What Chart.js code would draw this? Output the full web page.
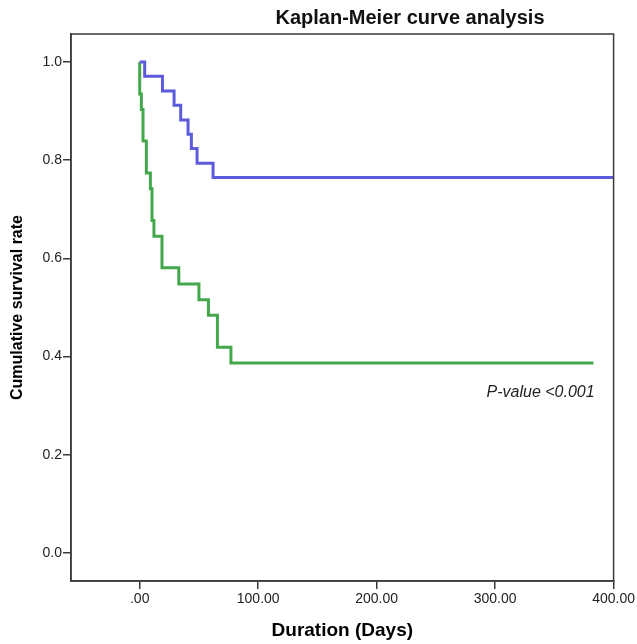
<!DOCTYPE html>
<html>
<head>
<meta charset="utf-8">
<script src="https://cdn.jsdelivr.net/npm/chart.js@4.4.1/dist/chart.umd.min.js"></script>
<style>
  html, body { margin: 0; padding: 0; background: #fff; }
  #wrap { width: 637px; height: 644px; }
</style>
</head>
<body>
<div id="wrap"><canvas id="km-graph" width="637" height="644"></canvas></div>
<script>
// survival curves (days, cumulative survival after each drop)
const groupADays = [0, 4.2, 19.2, 29, 34.6, 40.8, 43.6, 48.4, 61.9, 400];
const groupASurv = [1, 0.971, 0.941, 0.912, 0.882, 0.853, 0.824, 0.794, 0.765, 0.765];
const groupBDays = [0, 0, 1.4, 2.8, 5.6, 9, 10.4, 12, 18.8, 33, 50, 58, 65.6, 77, 383];
const groupBSurv = [1, 0.935, 0.903, 0.839, 0.774, 0.742, 0.677, 0.645, 0.581, 0.548, 0.516, 0.484, 0.419, 0.387, 0.387];

const xTicks = [0, 100, 200, 300, 400];
const yTicks = [0, 0.2, 0.4, 0.6, 0.8, 1.0];

const FONT = "'Liberation Sans', Arial, sans-serif";

function toPoints(days, surv) {
  return days.map((d, i) => ({ x: d, y: surv[i] }));
}

const framePlugin = {
  id: "frame",
  afterDraw(chart) {
    const { ctx, chartArea: a } = chart;
    ctx.save();
    ctx.strokeStyle = "#3a3a3a";
    ctx.lineWidth = 1.5;
    ctx.strokeRect(a.left, a.top, a.right - a.left, a.bottom - a.top);
    ctx.restore();
  },
};

const textPlugin = {
  id: "texts",
  afterDraw(chart) {
    const { ctx } = chart;
    const xs = chart.scales.x;
    const ys = chart.scales.y;
    ctx.save();
    ctx.fillStyle = "#111";
    ctx.font = "bold 20px " + FONT;
    ctx.textAlign = "center";
    ctx.textBaseline = "middle";
    ctx.fillText("Kaplan-Meier curve analysis", 410, 18);

    ctx.fillStyle = "#222";
    ctx.font = "italic 16px " + FONT;
    ctx.textAlign = "right";
    ctx.fillText("P-value <0.001", xs.getPixelForValue(384), ys.getPixelForValue(0.326));
    ctx.restore();
  },
};

const ctx = document.getElementById("km-graph");

new Chart(ctx, {
  type: "line",
  data: {
    datasets: [
      {
        label: "Group A",
        data: toPoints(groupADays, groupASurv),
        stepped: true,
        borderColor: "#5b5bdb",
        borderWidth: 3,
        pointRadius: 0,
        fill: false,
      },
      {
        label: "Group B",
        data: toPoints(groupBDays, groupBSurv),
        stepped: true,
        borderColor: "#43a84c",
        borderWidth: 3,
        pointRadius: 0,
        fill: false,
      },
    ],
  },
  options: {
    responsive: false,
    animation: false,
    devicePixelRatio: 1,
    layout: {
      padding: { top: 34, right: 23, left: 0, bottom: 0 },
    },
    scales: {
      x: {
        type: "linear",
        min: -58,
        max: 400,
        afterBuildTicks: (s) => {
          s.ticks = xTicks.map((v) => ({ value: v }));
        },
        afterFit: (s) => {
          s.height = 63;
        },
        ticks: {
          autoSkip: false,
          maxRotation: 0,
          padding: 2,
          color: "#222",
          font: { family: FONT, size: 14 },
          callback: (v) => (v === 0 ? ".00" : v.toFixed(2)),
        },
        grid: {
          drawOnChartArea: false,
          drawTicks: true,
          tickLength: 8,
          color: "#3a3a3a",
          lineWidth: 1.5,
        },
        border: { display: true, color: "#3a3a3a", width: 1.5 },
        title: {
          display: true,
          text: "Duration (Days)",
          color: "#000",
          font: { family: FONT, size: 19, weight: "bold" },
          padding: { top: 0, bottom: 2 },
        },
      },
      y: {
        min: -0.057,
        max: 1.057,
        afterBuildTicks: (s) => {
          s.ticks = yTicks.map((v) => ({ value: v }));
        },
        afterFit: (s) => {
          s.width = 71;
        },
        ticks: {
          padding: 1,
          color: "#222",
          font: { family: FONT, size: 14 },
          callback: (v) => v.toFixed(1),
        },
        grid: {
          drawOnChartArea: false,
          drawTicks: true,
          tickLength: 8,
          color: "#3a3a3a",
          lineWidth: 1.5,
        },
        border: { display: true, color: "#3a3a3a", width: 1.5 },
        title: {
          display: true,
          text: "Cumulative survival rate",
          color: "#000",
          font: { family: FONT, size: 16, weight: "bold" },
          padding: { top: 8, bottom: 0 },
        },
      },
    },
    plugins: {
      legend: { display: false },
      tooltip: { enabled: false },
    },
  },
  plugins: [framePlugin, textPlugin],
});
</script>
</body>
</html>
